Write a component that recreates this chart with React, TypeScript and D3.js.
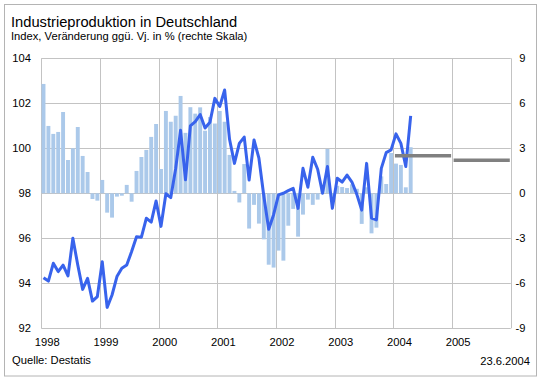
import React from "react";
import * as d3 from "d3";

const years = ["1998", "1999", "2000", "2001", "2002", "2003", "2004", "2005"];
const leftTicks = [92, 94, 96, 98, 100, 102, 104];
const rightTicks = [-9, -6, -3, 0, 3, 6, 9];

// Index (left scale), monthly Jan 1998 – Apr 2004
const indexValues = [
  94.25, 94.1, 94.89, 94.52, 94.81, 94.33, 96.0, 94.81, 93.73, 94.22, 93.21, 93.41,
  94.96, 92.93, 93.48, 94.3, 94.67, 94.81, 95.41, 96.07, 96.05, 96.89, 96.72, 97.66,
  96.53, 97.98, 97.81, 99.1, 100.8, 98.6, 101.0, 101.19, 101.5, 100.9, 101.16, 102.22,
  101.86, 102.59, 100.4, 99.33, 100.22, 100.5, 98.59, 100.37, 99.56, 97.88, 96.4, 97.05,
  97.93, 98.0, 98.12, 98.22, 97.33, 99.11, 98.27, 99.6, 99.07, 98.0, 99.19, 97.33,
  98.67, 98.5, 98.81, 98.5, 97.95, 97.25, 99.33, 96.9, 96.82, 99.11, 99.81, 99.93,
  100.64, 100.22, 99.19, 101.44,
];

// Veränderung ggü. Vj. in % (right scale), monthly Jan 1998 – Apr 2004
const changeValues = [
  7.29, 4.49, 3.96, 4.09, 5.42, 2.22, 3.0, 4.42, 2.49, 1.42, -0.38, -0.49,
  0.89, -1.29, -1.62, -0.22, -0.16, 0.56, -0.56, 1.49, 2.42, 2.89, 3.76, 4.62,
  1.62, 5.49, 4.77, 5.17, 6.49, 4.03, 5.74, 5.31, 5.73, 4.17, 5.08, 4.65,
  5.49, 4.77, 2.56, 0.16, -0.61, 1.95, -2.35, -0.77, -2.02, -3.07, -4.76, -4.95,
  -3.82, -4.49, -2.16, -1.04, -2.89, -1.42, -0.42, -0.77, -0.42, 0.3, 2.96, -0.5,
  0.5, 0.42, 0.35, 0.6, 0.3, -2.04, 0.4, -2.67, -2.29, 1.13, 0.62, 2.69,
  1.98, 1.89, 0.4, 3.07,
];

// Prognose (right scale), yearly
const forecastYears = [2004, 2005];
const forecastValues = [2.5, 2.2];

const W = 541;
const H = 382;
const plot = { left: 41.3, right: 510.8, top: 58.3, bottom: 328.3 };
const FONT = "'Liberation Sans', Arial, sans-serif";

export default function App() {
  const nMonths = years.length * 12;
  const x = d3.scaleLinear().domain([0, nMonths]).range([plot.left, plot.right]);
  const band = d3
    .scaleBand<number>()
    .domain(d3.range(nMonths))
    .range([plot.left, plot.right])
    .paddingInner(0.2)
    .paddingOuter(0.05);
  const yL = d3.scaleLinear().domain([92, 104]).range([plot.bottom, plot.top]);
  const yR = d3.scaleLinear().domain([-9, 9]).range([plot.bottom, plot.top]);

  const line = d3
    .line<number>()
    .x((_, i) => (band(i) as number) + band.bandwidth() / 2)
    .y((d) => yL(d));

  const gridColor = "#c3c3c3";

  return (
    <svg
      width={W}
      height={H}
      style={{ position: "absolute", left: 0, top: 0, background: "#fff" }}
      fontFamily={FONT}
    >
      <rect x={0} y={0} width={W} height={H} fill="#fff" />
      <rect x={4.5} y={4.5} width={532} height={371.5} fill="none" stroke="#b4b4b4" strokeWidth={1} />

      <text x={11} y={26.5} fontSize={14.7} fill="#000">
        Industrieproduktion in Deutschland
      </text>
      <text x={11} y={40} fontSize={11.2} fill="#000">
        Index, Veränderung ggü. Vj. in % (rechte Skala)
      </text>

      {/* horizontal grid */}
      {leftTicks.map((t) => (
        <line
          key={"h" + t}
          x1={plot.left}
          x2={plot.right}
          y1={Math.round(yL(t)) + 0.5}
          y2={Math.round(yL(t)) + 0.5}
          stroke={gridColor}
          strokeWidth={1}
        />
      ))}
      {/* vertical grid */}
      {d3.range(years.length + 1).map((i) => (
        <line
          key={"v" + i}
          x1={Math.round(x(i * 12)) + 0.5}
          x2={Math.round(x(i * 12)) + 0.5}
          y1={plot.top}
          y2={plot.bottom}
          stroke={gridColor}
          strokeWidth={1}
        />
      ))}

      {/* bars */}
      {changeValues.map((v, i) => (
        <rect
          key={"b" + i}
          x={band(i) as number}
          width={band.bandwidth()}
          y={Math.min(yR(v), yR(0))}
          height={Math.abs(yR(v) - yR(0))}
          fill="#abc9ea"
        />
      ))}

      {/* index line */}
      <path
        d={line(indexValues) || ""}
        fill="none"
        stroke="#3863ec"
        strokeWidth={3}
        strokeLinejoin="round"
      />

      {/* forecast */}
      {forecastYears.map((yr, i) => {
        const m = (yr - 1998) * 12;
        return (
          <line
            key={"f" + yr}
            x1={x(m) + 1.5}
            x2={x(m + 12) - 1}
            y1={yR(forecastValues[i])}
            y2={yR(forecastValues[i])}
            stroke="#808080"
            strokeWidth={3.5}
          />
        );
      })}

      {/* left ticks */}
      {leftTicks.map((t) => (
        <text
          key={"lt" + t}
          x={31}
          y={yL(t)}
          dy="0.36em"
          textAnchor="end"
          fontSize={11.2}
          fill="#000"
        >
          {t}
        </text>
      ))}
      {/* right ticks */}
      {rightTicks.map((t) => (
        <text
          key={"rt" + t}
          x={525.5}
          y={yR(t)}
          dy="0.36em"
          textAnchor="end"
          fontSize={11.2}
          fill="#000"
        >
          {t}
        </text>
      ))}
      {/* year labels */}
      {years.map((yr, i) => (
        <text
          key={"yl" + yr}
          x={x(i * 12) + 6}
          y={345.5}
          textAnchor="middle"
          fontSize={11.2}
          fill="#000"
        >
          {yr}
        </text>
      ))}

      <text x={12} y={364} fontSize={11.2} fill="#000">
        Quelle: Destatis
      </text>
      <text x={530} y={365} textAnchor="end" fontSize={11.2} fill="#000">
        23.6.2004
      </text>
    </svg>
  );
}
